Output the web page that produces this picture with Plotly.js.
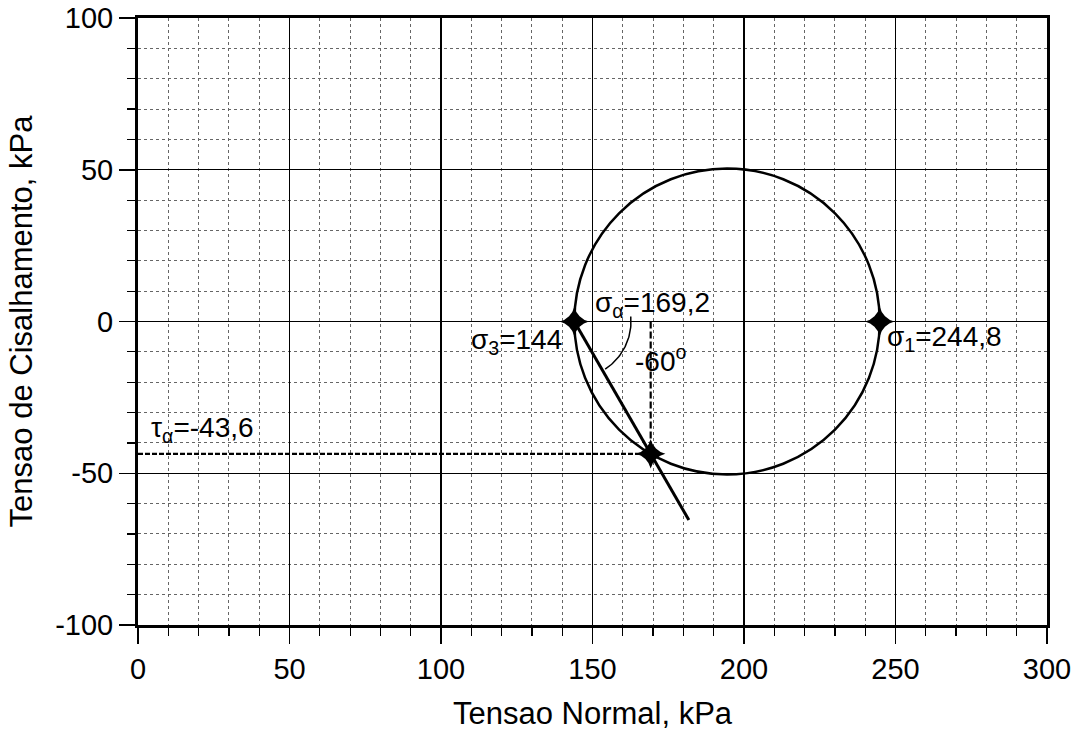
<!DOCTYPE html>
<html>
<head>
<meta charset="utf-8">
<script src="https://cdn.plot.ly/plotly-3.0.1.min.js"></script>
<style>html,body{margin:0;padding:0;background:#fff;}#chart{width:1076px;height:731px;}</style>
</head>
<body>
<div id="chart"></div>
<script>
// ---- data ----
const sigma3 = 144;          // minor principal stress, kPa
const sigma1 = 244.8;        // major principal stress, kPa
const sigmaAlpha = 169.2;    // normal stress on plane, kPa
const tauAlpha = -43.6;      // shear stress on plane, kPa
const alphaDeg = -60;        // plane angle, degrees
const pointX = [sigma3, sigmaAlpha, sigma1];
const pointY = [0, tauAlpha, 0];
const xTickVals = [0, 50, 100, 150, 200, 250, 300];
const yTickVals = [-100, -50, 0, 50, 100];
const labelTexts = ['σ<sub>3</sub>=144', 'σ<sub>α</sub>=169,2', '-60<sup>o</sup>', 'σ<sub>1</sub>=244,8', 'τ<sub>α</sub>=-43,6'];

// ---- derived geometry ----
const center = (sigma1 + sigma3) / 2;
const radius = (sigma1 - sigma3) / 2;
const lineExt = 1.5;
const lineX = [sigma3, sigma3 + lineExt * (sigmaAlpha - sigma3)];
const lineY = [0, lineExt * tauAlpha];
const arcR = 18.7, arcStart = 5, arcEnd = -57;
const arcX = [], arcY = [];
for (let i = 0; i <= 40; i++) {
  const a = (arcStart + (arcEnd - arcStart) * i / 40) * Math.PI / 180;
  arcX.push(sigma3 + arcR * Math.cos(a));
  arcY.push(arcR * Math.sin(a));
}

const FONT = 'Liberation Sans, Arial, sans-serif';

const traces = [
  { x: [0, sigmaAlpha], y: [tauAlpha, tauAlpha], mode: 'lines', line: {color: '#000', width: 2.2, dash: '5px,2px'}, hoverinfo: 'skip' },
  { x: [sigmaAlpha, sigmaAlpha], y: [0, tauAlpha], mode: 'lines', line: {color: '#000', width: 2.2, dash: '7px,3px'}, hoverinfo: 'skip' },
  { x: lineX, y: lineY, mode: 'lines', line: {color: '#000', width: 3}, hoverinfo: 'skip' },
  { x: arcX, y: arcY, mode: 'lines', line: {color: '#000', width: 1.5}, hoverinfo: 'skip' },
  { x: pointX, y: pointY, mode: 'markers', marker: {symbol: 'star-diamond', size: 21, color: '#000'}, hoverinfo: 'skip' }
];

const ann = (x, y, t, xa, ya) => ({x, y, xref: 'x', yref: 'y', text: t, showarrow: false, xanchor: xa, yanchor: ya, font: {family: FONT, size: 28, color: '#000'}});

const axisCommon = {
  showline: true, linecolor: '#000', linewidth: 3, mirror: true,
  ticks: 'outside', ticklen: 16, tickwidth: 1.5, tickcolor: '#000',
  showgrid: true, gridcolor: '#000', gridwidth: 1.2,
  zeroline: false,
  tickfont: {family: FONT, size: 29, color: '#000'},
  minor: {dtick: 10, ticks: 'outside', ticklen: 8, tickwidth: 1.2, tickcolor: '#000', showgrid: true, gridcolor: '#666', gridwidth: 1, griddash: 'dot'}
};

const layout = {
  width: 1076, height: 731,
  margin: {l: 138, r: 29, t: 18, b: 106},
  paper_bgcolor: '#fff', plot_bgcolor: '#fff',
  showlegend: false,
  xaxis: Object.assign({}, axisCommon, {
    range: [0, 300], tickvals: xTickVals, ticktext: xTickVals.map(String),
    title: {text: 'Tensao Normal, kPa', font: {family: FONT, size: 31, color: '#000'}, standoff: 22}
  }),
  yaxis: Object.assign({}, axisCommon, {
    range: [-100, 100], tickvals: yTickVals, ticktext: yTickVals.map(String),
    title: {text: 'Tensao de Cisalhamento, kPa', font: {family: FONT, size: 31, color: '#000'}, standoff: 14}
  }),
  shapes: [
    {type: 'circle', xref: 'x', yref: 'y', x0: sigma3, x1: sigma1, y0: -radius, y1: radius, line: {color: '#000', width: 2.5}}
  ],
  annotations: [
    ann(140.5, -6.5, labelTexts[0], 'right', 'middle'),
    ann(150.2, 5.5, labelTexts[1], 'left', 'middle'),
    ann(163.2, -12.5, labelTexts[2], 'left', 'middle'),
    ann(246.5, -5.5, labelTexts[3], 'left', 'middle'),
    ann(3.5, -35.5, labelTexts[4], 'left', 'middle')
  ]
};

Plotly.newPlot('chart', traces, layout, {staticPlot: true, displayModeBar: false});
</script>
</body>
</html>
